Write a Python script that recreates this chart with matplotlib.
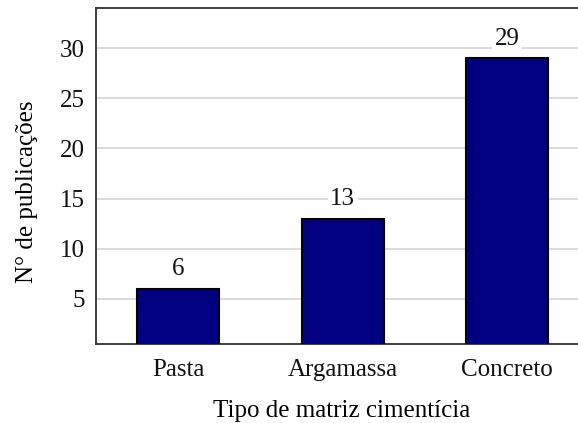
import matplotlib
matplotlib.use("Agg")
import matplotlib.pyplot as plt

categories = ["Pasta", "Argamassa", "Concreto"]
values = [6, 13, 29]
yticks = [5, 10, 15, 20, 25, 30]

plt.rcParams['font.family'] = ['Liberation Serif', 'DejaVu Serif']

fig = plt.figure(figsize=(5.78, 4.23), dpi=100)
ax = fig.add_axes([96/578, 1 - 344/423, 1 - 96/578, (344 - 8)/423])

x = list(range(len(categories)))
ax.bar(x, values, width=0.5, color="#000080", edgecolor="black", linewidth=1.5, zorder=3)

ax.set_ylim(0.5, 34)
ax.set_xlim(-0.5, 2.43)
ax.set_yticks(yticks)
ax.set_xticks(x)
ax.set_xticklabels(categories)
ax.yaxis.grid(True, color="#d4d4d4", linewidth=1.2, zorder=0)
ax.set_axisbelow(True)
ax.tick_params(axis="both", length=0, labelsize=18, colors="#111111")
ax.tick_params(axis="y", pad=8)
ax.tick_params(axis="x", pad=11)

for s in ["left", "bottom", "top"]:
    ax.spines[s].set_linewidth(1.3)
    ax.spines[s].set_color("#333333")
ax.spines["right"].set_visible(False)

for xi, v in zip(x, values):
    ax.annotate(str(v), (xi, v), xytext=(0, 14), textcoords="offset points",
                ha="center", va="center", fontsize=18, color="#111111",
                bbox=dict(facecolor="white", edgecolor="none", pad=2), zorder=4)

ax.set_ylabel("N° de publicações", fontsize=18, va="center")
ax.yaxis.set_label_coords(-0.143, 0.452)
ax.set_xlabel("Tipo de matriz cimentícia", fontsize=18, va="center")
ax.xaxis.set_label_coords(0.51, -0.20)

fig.savefig("out.png", dpi=100)
